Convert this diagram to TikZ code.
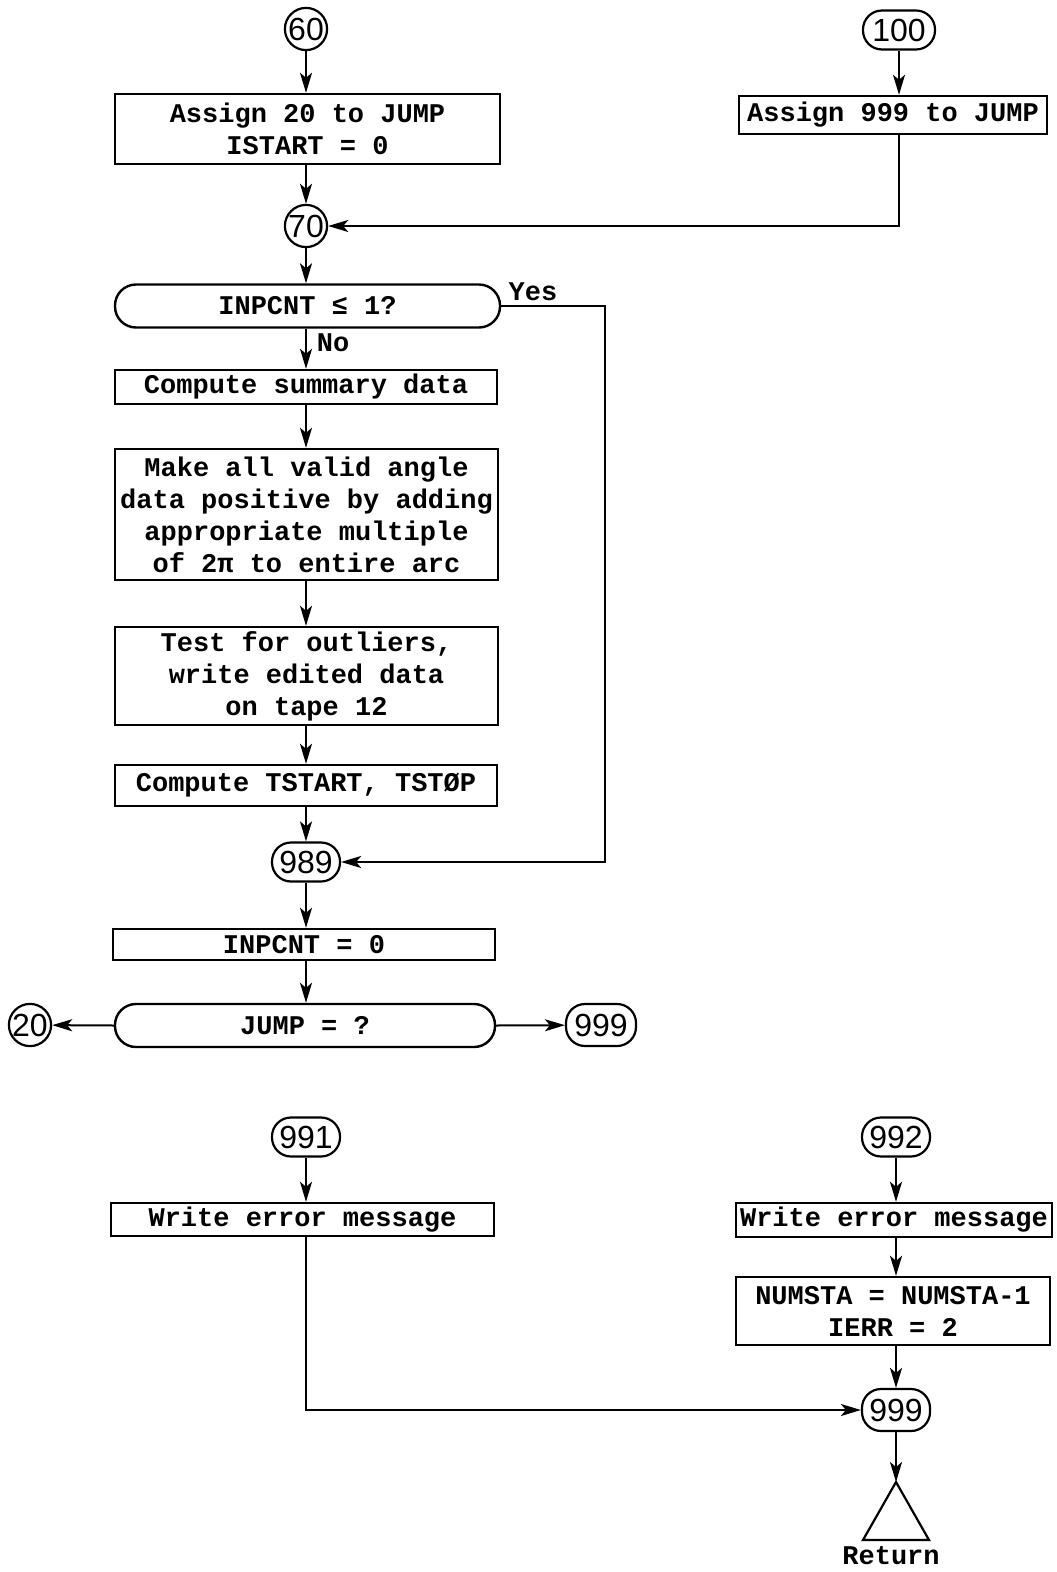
\documentclass[tikz,border=0pt]{standalone}
\usepackage{fontspec}
\setmainfont{Liberation Mono}
\newfontfamily\numfont{Liberation Sans}
\usetikzlibrary{arrows.meta}
\begin{document}
\begin{tikzpicture}[x=0.5pt,y=-0.5pt,
  every node/.style={font=\bfseries\fontsize{13.5}{16}\selectfont, inner sep=0pt},
  pbox/.style={draw, line width=1.2pt, align=center},
  dec/.style={draw, line width=1.2pt, rounded corners=10.5pt, minimum height=21.5pt},
  circ/.style={draw, circle, line width=1.1pt, minimum size=21pt, font=\numfont\fontsize{16}{16}\selectfont},
  term/.style={draw, line width=1.1pt, rounded corners=9.5pt, minimum width=34pt, minimum height=19.5pt, font=\numfont\fontsize{16}{16}\selectfont},
  arr/.style={-{Stealth[length=10pt,width=6pt,inset=2.5pt]}, line width=1pt},
  ln/.style={line width=1pt}
]
\useasboundingbox (0,0) rectangle (1056,1572);
\fill[white] (0,0) rectangle (1056,1572);

% left column, top
\node[circ] (c60) at (306,29) {60};
\node[pbox, minimum width=192.5pt, minimum height=35pt] (b1) at (307.5,129) {Assign 20 to JUMP\\ISTART = 0};
\node[circ] (c70) at (306,226) {70};

% right column, top
\node[term, minimum width=36pt] (s100) at (899,30) {100};
\node[pbox, minimum width=154pt, minimum height=19pt] (b2) at (893,115) {Assign 999 to JUMP};

% decision INPCNT
\node[dec, minimum width=192.5pt] (d1) at (307.5,306) {INPCNT ≤ 1?};
\node[pbox, minimum width=191pt, minimum height=17pt] (b3) at (306,387) {Compute summary data};
\node[pbox, minimum width=191.5pt, minimum height=65.5pt] (b4) at (306.5,514.5) {Make all valid angle\\data positive by adding\\appropriate multiple\\of 2π to entire arc};
\node[pbox, minimum width=191.5pt, minimum height=49pt] (b5) at (306.5,676) {Test for outliers,\\write edited data\\on tape 12};
\node[pbox, minimum width=191pt, minimum height=20.5pt] (b6) at (306,785.5) {Compute TSTART, TSTØP};
\node[term] (s989) at (306,862) {989};
\node[pbox, minimum width=191pt, minimum height=15.5pt] (b7) at (304,944.5) {INPCNT = 0};
\node[dec, minimum width=190pt] (d2) at (305,1025.5) {JUMP = ?};
\node[circ, minimum size=20pt] (c20) at (30,1025) {20};
\node[term, minimum width=35pt, minimum height=21pt] (s999a) at (601,1025) {999};

% lower part
\node[term] (s991) at (306,1137) {991};
\node[pbox, minimum width=191.5pt, minimum height=16.5pt] (b8) at (302.5,1219.5) {Write error message};
\node[term] (s992) at (896,1137) {992};
\node[pbox, minimum width=158pt, minimum height=17pt] (b9) at (894,1220) {Write error message};
\node[pbox, minimum width=157pt, minimum height=34pt] (b10) at (893,1311) {NUMSTA = NUMSTA-1\\IERR = 2};
\node[term, minimum height=21pt] (s999b) at (896,1410) {999};
\coordinate (tri) at (896,1482);
\draw[line width=1.1pt, line join=miter] (tri) -- ++(-33,58) -- ++(66,0) -- cycle;
\node[anchor=north] (ret) at (891,1546) {Return};

% labels
\node (yes) at (533,292) {Yes};
\node (no) at (333,343) {No};

% connectors
\draw[arr] (c60) -- (c60 |- b1.north);
\draw[arr] (c60 |- b1.south) -- (c70);
\draw[arr] (s100) -- (s100 |- b2.north);
\draw[arr] (s100 |- b2.south) |- (c70.east);
\draw[arr] (c70) -- (c70 |- d1.north);
\draw[arr] (c70 |- d1.south) -- (c70 |- b3.north);
\coordinate (yesturn) at (605,306);
\draw[arr] (d1.east) -- (yesturn) |- (s989.east);
\draw[arr] (c70 |- b3.south) -- (c70 |- b4.north);
\draw[arr] (c70 |- b4.south) -- (c70 |- b5.north);
\draw[arr] (c70 |- b5.south) -- (c70 |- b6.north);
\draw[arr] (c70 |- b6.south) -- (s989);
\draw[arr] (s989) -- (s989 |- b7.north);
\draw[arr] (s989 |- b7.south) -- (s989 |- d2.north);
\draw[arr] (d2.west) -- (c20);
\draw[arr] (d2.east) -- (s999a);
\draw[arr] (s991) -- (s991 |- b8.north);
\draw[arr] (s991 |- b8.south) |- (s999b.west);
\draw[arr] (s992) -- (s992 |- b9.north);
\draw[arr] (s992 |- b9.south) -- (s992 |- b10.north);
\draw[arr] (s992 |- b10.south) -- (s999b);
\draw[arr] (s999b) -- (tri);
\end{tikzpicture}
\end{document}
